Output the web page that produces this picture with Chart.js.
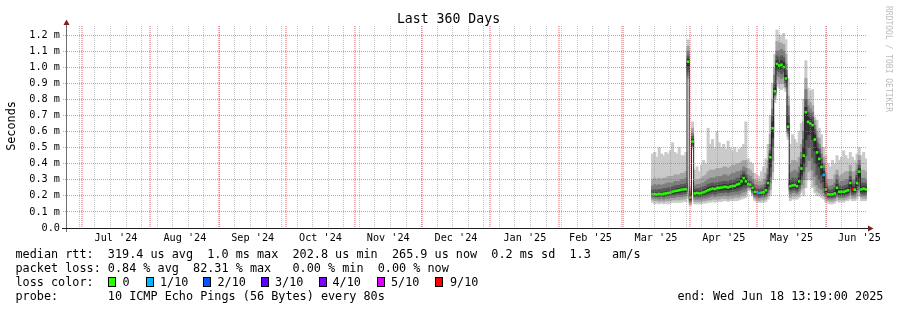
<!DOCTYPE html>
<html>
<head>
<meta charset="utf-8">
<title>Last 360 Days</title>
<script src="https://cdn.jsdelivr.net/npm/chart.js@4.4.1/dist/chart.umd.min.js"></script>
<style>
  html, body { margin: 0; padding: 0; background: #ffffff; }
  #wrap { position: relative; width: 897px; height: 310px; overflow: hidden; background: #fff;
          font-family: "DejaVu Sans Mono", monospace; color: #000; }
  #chart { position: absolute; left: 0; top: 0; }
  .txt { position: absolute; white-space: pre; font-size: 11.8px; line-height: 14px; }
  #title { position: absolute; left: 0; top: 11px; width: 897px; text-align: center;
           font-size: 13.2px; line-height: 16px; white-space: pre; }
  #ylabel { position: absolute; left: -39px; top: 119px; width: 100px; height: 14px; text-align: center;
            font-size: 11.8px; line-height: 14px; white-space: pre; transform: rotate(-90deg); }
  #mark { position: absolute; left: 828px; top: 54px; width: 120px; height: 10px; text-align: center;
          font-size: 8px; line-height: 10px; white-space: pre; color: #bdbdbd; transform: rotate(90deg); }
  .box { position: absolute; width: 8px; height: 10px; box-sizing: border-box; border: 1px solid #000; top: 277px; }
</style>
</head>
<body>
<div id="wrap">
  <canvas id="chart" width="897" height="310"></canvas>
  <div id="title">Last 360 Days</div>
  <div id="ylabel">Seconds</div>
  <div id="mark">RRDTOOL / TOBI OETIKER</div>
  <div class="txt" style="left:15.5px;top:247px">median rtt:  319.4 us avg  1.0 ms max  202.8 us min  265.9 us now  0.2 ms sd  1.3   am/s</div>
  <div class="txt" style="left:15.5px;top:261px">packet loss: 0.84 % avg  82.31 % max   0.00 % min  0.00 % now</div>
  <div class="txt" style="left:15.5px;top:275px">loss color:</div>
  <div id="losslegend"></div>
  <div class="txt" style="left:15.5px;top:289px">probe:       10 ICMP Echo Pings (56 Bytes) every 80s</div>
  <div class="txt" style="left:677.5px;top:289px">end: Wed Jun 18 13:19:00 2025</div>
</div>
<script>
// ---------------- data ----------------
// time window: 360 days, left edge of the plot
const graphStart = Date.UTC(2024, 5, 24, 10, 26);
const spanDays = 360;
// first consolidated (1 day) bin that holds data, in days since graphStart
const firstBinDay = 263;

const monthStarts = ['2024-07-01','2024-08-01','2024-09-01','2024-10-01','2024-11-01','2024-12-01',
                     '2025-01-01','2025-02-01','2025-03-01','2025-04-01','2025-05-01','2025-06-01','2025-07-01'];
const monthLabels = ["Jul '24","Aug '24","Sep '24","Oct '24","Nov '24","Dec '24",
                     "Jan '25","Feb '25","Mar '25","Apr '25","May '25","Jun '25"];
const firstWeekLine = '2024-06-30'; // weekly grid lines fall on Sundays

const yTicks = [0,0.1,0.2,0.3,0.4,0.5,0.6,0.7,0.8,0.9,1.0,1.1,1.2];
const yTickLabels = ['0.0','0.1 m','0.2 m','0.3 m','0.4 m','0.5 m','0.6 m','0.7 m','0.8 m','0.9 m','1.0 m','1.1 m','1.2 m'];

const lossLevels = [0,1,2,3,4,5,9];
const lossLabels = ['0','1/10','2/10','3/10','4/10','5/10','9/10'];
const lossColors = ['#26ff00','#00b8ff','#0059ff','#5e00ff','#7e00ff','#dd00ff','#ff0000'];

// round trip times in ms, sorted ping ranks per daily bin (min, p2..p9, max) and median
const rttMin = [
 .16,.15,.155,.15,.155,.15,.155,.15,.155,.16,
 .16,.16,.16,.16,.165,.165,.93,.14,.49,.15,
 .15,.15,.15,.155,.155,.16,.16,.165,.16,.165,
 .165,.165,.17,.17,.165,.17,.17,.17,.17,.175,
 .18,.185,.19,.24,.23,.2,.17,.16,.16,.16,
 .16,.165,.18,.2,.3,.78,.88,.87,.86,.87,
 .85,.55,.17,.18,.18,.18,.19,.22,.2,.25,
 .3,.3,.25,.22,.2,.2,.19,.18,.16,.155,
 .15,.15,.155,.17,.16,.165,.16,.17,.17,.18,
 .17,.17,.18,.2,.17,.17,.17];
const rttP2 = [
 .175,.17,.17,.165,.17,.165,.17,.17,.17,.175,
 .175,.18,.175,.18,.18,.185,.95,.15,.5,.165,
 .165,.165,.165,.17,.17,.175,.175,.18,.18,.18,
 .18,.185,.185,.185,.18,.185,.185,.19,.19,.19,
 .2,.2,.21,.25,.24,.21,.185,.175,.17,.175,
 .175,.18,.2,.24,.35,.8,.92,.9,.9,.9,
 .87,.57,.19,.2,.2,.2,.21,.24,.25,.3,
 .35,.36,.3,.26,.23,.22,.21,.2,.18,.17,
 .165,.165,.17,.19,.175,.18,.175,.18,.185,.2,
 .185,.185,.2,.23,.19,.185,.185];
const rttP3 = [
 .19,.185,.185,.18,.185,.18,.185,.185,.19,.19,
 .19,.195,.195,.195,.2,.2,.97,.16,.51,.18,
 .18,.18,.18,.185,.185,.19,.195,.2,.195,.2,
 .2,.2,.205,.205,.2,.205,.205,.21,.21,.21,
 .22,.225,.23,.255,.25,.22,.195,.19,.185,.19,
 .19,.195,.22,.28,.42,.82,.95,.94,.93,.94,
 .88,.59,.21,.22,.22,.215,.23,.27,.3,.38,
 .42,.42,.36,.32,.27,.25,.24,.22,.195,.18,
 .18,.18,.185,.2,.19,.19,.19,.195,.2,.22,
 .2,.2,.22,.26,.2,.2,.2];
const rttP4 = [
 .2,.195,.195,.195,.2,.195,.2,.2,.2,.205,
 .205,.21,.21,.21,.215,.215,.99,.17,.52,.195,
 .195,.195,.195,.2,.2,.205,.21,.215,.21,.215,
 .22,.22,.22,.225,.22,.225,.225,.23,.23,.235,
 .24,.25,.25,.26,.255,.23,.205,.2,.195,.2,
 .2,.21,.24,.32,.5,.83,.98,.97,.96,.97,
 .9,.6,.23,.235,.235,.23,.25,.3,.35,.45,
 .5,.5,.44,.4,.33,.3,.28,.25,.21,.19,
 .19,.19,.195,.215,.2,.2,.2,.205,.21,.24,
 .21,.215,.24,.29,.215,.21,.215];
const rttP5 = [
 .205,.205,.2,.205,.205,.205,.206,.21,.21,.215,
 .218,.22,.222,.225,.228,.228,1.01,.18,.53,.205,
 .207,.205,.207,.21,.215,.22,.225,.23,.228,.232,
 .235,.235,.238,.24,.236,.24,.242,.245,.25,.255,
 .26,.27,.27,.265,.262,.24,.215,.21,.205,.21,
 .21,.22,.26,.38,.56,.84,1.0,.99,.99,.99,
 .92,.62,.245,.25,.25,.245,.27,.33,.4,.55,
 .58,.58,.55,.48,.4,.38,.33,.29,.22,.2,
 .2,.2,.205,.23,.21,.212,.212,.215,.22,.26,
 .225,.225,.26,.32,.225,.225,.228];
const rttMedian = [
 .21,.21,.208,.212,.21,.213,.215,.218,.22,.226,
 .23,.232,.235,.238,.24,.242,1.034,.19,.537,.215,
 .218,.215,.218,.222,.228,.235,.24,.245,.242,.248,
 .25,.252,.255,.256,.252,.258,.26,.262,.27,.275,
 .29,.31,.29,.272,.27,.25,.225,.222,.218,.22,
 .222,.235,.28,.44,.62,.85,1.02,1.01,1.015,1.0,
 .93,.63,.26,.265,.268,.26,.29,.37,.45,.72,
 .66,.65,.64,.55,.47,.43,.38,.33,.24,.21,
 .208,.21,.215,.25,.225,.225,.225,.23,.235,.28,
 .24,.238,.28,.35,.24,.245,.24];
const rttP6 = [
 .215,.22,.215,.22,.22,.222,.225,.228,.23,.235,
 .24,.245,.245,.25,.25,.255,1.05,.2,.55,.225,
 .23,.225,.23,.235,.24,.25,.255,.26,.255,.26,
 .265,.265,.27,.27,.265,.272,.275,.278,.285,.29,
 .31,.33,.31,.28,.278,.26,.235,.23,.228,.23,
 .232,.25,.3,.46,.66,.87,1.04,1.03,1.04,1.03,
 .95,.65,.275,.28,.285,.275,.31,.4,.5,.75,
 .69,.68,.66,.58,.5,.46,.4,.35,.255,.22,
 .218,.22,.23,.27,.24,.24,.238,.245,.25,.3,
 .255,.25,.31,.37,.255,.26,.255];
const rttP7 = [
 .235,.24,.235,.24,.24,.245,.245,.25,.25,.255,
 .26,.265,.265,.27,.27,.275,1.07,.21,.57,.24,
 .245,.245,.25,.255,.26,.27,.275,.28,.275,.28,
 .285,.285,.29,.29,.285,.295,.3,.3,.31,.31,
 .33,.35,.33,.3,.29,.275,.25,.245,.24,.245,
 .25,.27,.33,.48,.7,.9,1.07,1.06,1.07,1.06,
 .98,.7,.3,.31,.31,.3,.34,.43,.55,.8,
 .72,.71,.69,.61,.53,.49,.43,.37,.275,.24,
 .235,.24,.25,.3,.26,.26,.26,.265,.27,.32,
 .275,.27,.33,.39,.28,.28,.275];
const rttP8 = [
 .26,.27,.265,.27,.265,.27,.275,.28,.28,.28,
 .29,.29,.29,.3,.3,.31,1.1,.225,.59,.26,
 .27,.27,.275,.28,.29,.3,.31,.31,.31,.32,
 .32,.32,.33,.33,.32,.33,.34,.34,.35,.35,
 .36,.38,.37,.33,.32,.3,.27,.265,.26,.265,
 .27,.3,.37,.52,.74,.95,1.1,1.1,1.11,1.1,
 1.02,.76,.34,.35,.36,.35,.38,.47,.6,.86,
 .76,.74,.72,.64,.56,.52,.46,.4,.3,.26,
 .26,.265,.28,.33,.28,.29,.29,.3,.3,.35,
 .3,.3,.36,.42,.31,.31,.3];
const rttP9 = [
 .3,.31,.3,.31,.3,.31,.31,.32,.32,.32,
 .33,.33,.33,.34,.34,.35,1.13,.24,.62,.29,
 .3,.3,.31,.32,.33,.35,.36,.36,.36,.37,
 .37,.37,.38,.38,.37,.38,.39,.39,.4,.4,
 .41,.42,.42,.37,.36,.34,.3,.29,.29,.29,
 .3,.34,.42,.58,.8,1.0,1.16,1.15,1.15,1.14,
 1.08,.82,.4,.42,.42,.41,.44,.52,.66,.93,
 .8,.78,.76,.67,.6,.56,.5,.44,.34,.3,
 .3,.3,.33,.36,.32,.33,.34,.35,.35,.39,
 .35,.35,.4,.45,.36,.36,.35];
const rttMax = [
 .46,.47,.44,.5,.46,.45,.47,.46,.48,.53,
 .47,.46,.5,.45,.45,.47,1.17,.26,.66,.36,
 .38,.35,.39,.42,.4,.62,.52,.55,.5,.6,
 .53,.5,.52,.49,.54,.5,.48,.5,.47,.49,
 .5,.52,.66,.43,.41,.4,.34,.33,.32,.35,
 .38,.43,.52,.7,.9,1.08,1.23,1.2,1.19,1.21,
 1.17,.93,.52,.58,.55,.53,.6,.65,.8,1.04,
 .87,.85,.86,.69,.67,.62,.58,.5,.45,.4,
 .38,.42,.4,.45,.42,.44,.48,.45,.43,.47,
 .44,.42,.46,.5,.45,.47,.43];
// lost pings out of 10 per bin
const lossTenths = [
 0,0,0,0,0,0,0,0,0,0,
 0,0,0,0,0,0,0,0,0,0,
 0,0,0,0,0,0,0,0,0,0,
 0,0,0,0,0,0,0,0,0,0,
 0,0,0,0,0,0,0,1,1,0,
 0,0,0,0,0,0,0,0,0,0,
 0,0,0,0,0,0,0,0,0,0,
 0,0,0,0,0,0,0,1,0,0,
 0,0,0,0,0,0,0,0,0,0,
 9,0,0,0,0,0,0];

// ---------------- helpers ----------------
const DAY = 86400000;
const dayOf = s => (Date.parse(s + 'T00:00:00Z') - graphStart) / DAY;
const binX = i => firstBinDay + i + 0.5;
function lossColor(v) {
  let c = lossColors[0];
  for (let k = 0; k < lossLevels.length; k++) if (v >= lossLevels[k]) c = lossColors[k];
  return c;
}
const band = (lo, hi) => lo.map((v, i) => ({ x: binX(i), y: [v, hi[i]] }));
const pts = arr => arr.map((v, i) => ({ x: binX(i), y: v }));

// legend loss boxes
const slotBox = [108, 146, 203, 261, 319, 377, 435];
const slotTxt = [122.5, 160, 217.5, 275, 332.5, 391, 450];
const ll = document.getElementById('losslegend');
lossLabels.forEach((lab, k) => {
  const b = document.createElement('div');
  b.className = 'box'; b.style.left = slotBox[k] + 'px'; b.style.background = lossColors[k];
  ll.appendChild(b);
  const t = document.createElement('div');
  t.className = 'txt'; t.style.left = slotTxt[k] + 'px'; t.style.top = '275px'; t.textContent = lab;
  ll.appendChild(t);
});

// x grid: weekly lines, month-start lines, and mid-month labels
const weekTicks = [];
for (let d = dayOf(firstWeekLine); d <= spanDays; d += 7) if (d >= 0) weekTicks.push(d);
const monthTicks = monthStarts.map(dayOf).filter(d => d >= 0 && d <= spanDays);
const labelTicks = monthLabels.map((lab, i) => (dayOf(monthStarts[i]) + dayOf(monthStarts[i + 1])) / 2);

const GRID = 'rgba(143,143,143,0.55)';
const MGRID = 'rgba(222,79,79,0.6)';
const MGRIDV = 'rgba(225,80,80,0.45)';
const FONT = '"DejaVu Sans Mono", monospace';

const axesPlugin = {
  id: 'rrdAxes',
  afterDraw(chart) {
    const { ctx, chartArea: a } = chart;
    ctx.save();
    ctx.strokeStyle = '#707070'; ctx.lineWidth = 1;
    ctx.beginPath(); ctx.moveTo(a.left - 0.5, a.bottom + 4); ctx.lineTo(a.left - 0.5, a.top - 1); ctx.stroke();
    ctx.strokeStyle = '#1f1f1f';
    ctx.beginPath(); ctx.moveTo(a.left - 5, a.bottom + 0.5); ctx.lineTo(a.right + 2, a.bottom + 0.5); ctx.stroke();
    ctx.fillStyle = '#801f1f';
    ctx.beginPath(); ctx.moveTo(a.right + 1, a.bottom - 2.5); ctx.lineTo(a.right + 1, a.bottom + 3.5); ctx.lineTo(a.right + 6.5, a.bottom + 0.5); ctx.closePath(); ctx.fill();
    ctx.beginPath(); ctx.moveTo(a.left - 3.5, a.top - 1); ctx.lineTo(a.left + 2.5, a.top - 1); ctx.lineTo(a.left - 0.5, a.top - 6.5); ctx.closePath(); ctx.fill();
    ctx.restore();
  }
};

const barCommon = { type: 'bar', grouped: false, barPercentage: 1, categoryPercentage: 1, borderWidth: 0, inflateAmount: 0.4 };

function gridAxis(values, color, weight, dash, width) {
  return {
    type: 'linear', position: 'bottom', min: 0, max: spanDays, offset: false, weight: weight,
    afterBuildTicks: s => { s.ticks = values.map(v => ({ value: v })); },
    afterFit: s => { s.height = 0; },
    grid: { z: 1, drawTicks: false, color: color, lineWidth: width, offset: false },
    border: { display: false, dash: dash },
    ticks: { display: false, autoSkip: false }
  };
}

new Chart(document.getElementById('chart'), {
  data: {
    datasets: [
      Object.assign({ label: 'smoke1', data: band(rttMin, rttMax), backgroundColor: '#cacaca', order: 7 }, barCommon),
      Object.assign({ label: 'smoke2', data: band(rttP2, rttP9), backgroundColor: '#a4a4a4', order: 6 }, barCommon),
      Object.assign({ label: 'smoke3', data: band(rttP3, rttP8), backgroundColor: '#7e7e7e', order: 5 }, barCommon),
      Object.assign({ label: 'smoke4', data: band(rttP4, rttP7), backgroundColor: '#585858', order: 4 }, barCommon),
      Object.assign({ label: 'smoke5', data: band(rttP5, rttP6), backgroundColor: '#323232', order: 3 }, barCommon),
      { type: 'line', label: 'median', data: pts(rttMedian), stepped: 'middle', borderColor: '#202020',
        borderWidth: 1, pointRadius: 0, order: 2 },
      { type: 'line', label: 'loss', data: pts(rttMedian), showLine: false, pointStyle: 'line',
        pointRadius: 1.25, pointBorderWidth: 2.6, pointHoverRadius: 0,
        pointBorderColor: c => lossColor(lossTenths[c.dataIndex]), order: 1 }
    ]
  },
  options: {
    responsive: false, animation: false, devicePixelRatio: 1,
    layout: { padding: { left: 0, right: 30, top: 26, bottom: 0 } },
    plugins: { legend: { display: false }, tooltip: { enabled: false }, title: { display: false } },
    scales: {
      x: { type: 'linear', min: 0, max: spanDays, display: false, offset: false, grid: { offset: false } },
      xw: gridAxis(weekTicks, GRID, 2, [1, 1], 1),
      xm: gridAxis(monthTicks, MGRIDV, 1, [1, 1], 2),
      xl: {
        type: 'linear', position: 'bottom', min: 0, max: spanDays, offset: false, weight: 0,
        afterBuildTicks: s => { s.ticks = labelTicks.map(v => ({ value: v })); },
        afterFit: s => { s.height = 82; },
        grid: { display: false, drawTicks: false },
        border: { display: false },
        ticks: {
          autoSkip: false, maxRotation: 0, minRotation: 0, padding: 4, color: '#000',
          font: { family: FONT, size: 10.2 },
          callback: (v, i) => monthLabels[i]
        }
      },
      y: {
        type: 'linear', position: 'left', min: 0, max: 1.256,
        afterBuildTicks: s => { s.ticks = yTicks.map(v => ({ value: v })); },
        afterFit: s => { s.width = 67; },
        grid: { z: 1, color: MGRID, drawTicks: true, tickLength: 4, tickColor: MGRID, tickBorderDash: [1, 1] },
        border: { display: false, dash: [1, 1] },
        ticks: {
          padding: 3, color: '#000', font: { family: FONT, size: 10.2 },
          callback: (v, i) => yTickLabels[i]
        }
      }
    }
  },
  plugins: [axesPlugin]
});
</script>
</body>
</html>
